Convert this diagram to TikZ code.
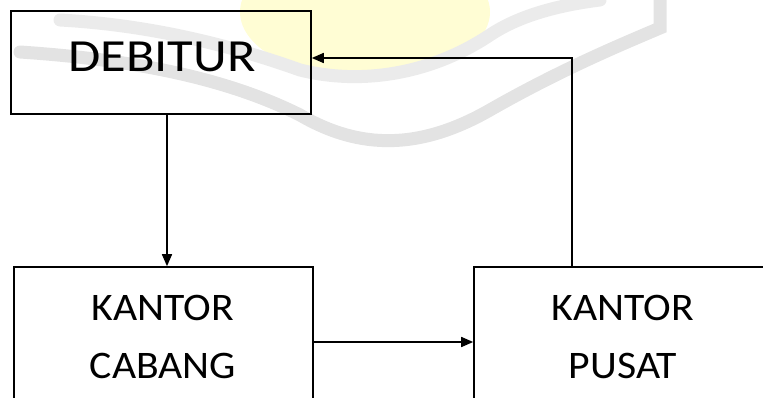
\documentclass[tikz,border=0pt]{standalone}
\usepackage{fontspec}
\setmainfont{Carlito}
\usetikzlibrary{arrows.meta}

\tikzset{
  box/.style={draw=black, line width=1.6pt, minimum width=#1, inner sep=0pt},
  boxtext/.style={inner sep=0pt, anchor=base, font=\fontsize{39}{39}\selectfont},
  flow/.style={draw=black, line width=1.6pt, -{Triangle[length=12pt,width=10pt]}},
  wmband/.style={draw=gray!22, line width=13pt, line cap=round},
}
\newcommand{\widen}[2]{\scalebox{#1}[1]{#2}}

\begin{document}
\begin{tikzpicture}[x=1pt,y=-1pt]
  \useasboundingbox (0,0) rectangle (763,398);
  \clip (0,0) rectangle (763,398);

  % faint logo watermark behind the chart
  \fill[yellow!17] (365,12) ellipse [x radius=125pt, y radius=66pt];
  \draw[wmband] (20,52) .. controls (140,60) and (230,80) .. (300,115)
        .. controls (360,150) and (420,150) .. (490,110)
        .. controls (560,70) and (620,45) .. (660,28) -- (660,0);
  \draw[wmband, draw=gray!16] (60,20) .. controls (150,25) and (230,45) .. (300,70)
        .. controls (360,85) and (430,75) .. (490,35)
        .. controls (520,15) and (560,5) .. (600,0);

  % boxes
  \node[box=300pt, minimum height=103pt] (deb) at (161,62.5) {};
  \node[box=299pt, minimum height=160pt] (cab) at (163.5,347) {};
  \node[box=320pt, minimum height=160pt] (pus) at (634,347) {};

  % labels
  \node[boxtext, font=\fontsize{46}{46}\selectfont] (tdeb) at (162,72) {\widen{1.14}{DEBITUR}};
  \node[boxtext] (tcab1) at (163,320) {\widen{1.07}{KANTOR}};
  \node[boxtext] (tcab2) at (163,378) {\widen{1.07}{CABANG}};
  \node[boxtext] (tpus1) at (623,320) {\widen{1.07}{KANTOR}};
  \node[boxtext] (tpus2) at (623,378) {\widen{1.07}{PUSAT}};

  % connectors
  \coordinate (bend) at (572,58);
  \draw[flow] (deb.south -| 167,0) -- (cab.north -| 167,0);
  \draw[flow] (cab.east |- 0,342) -- (pus.west |- 0,342);
  \draw[flow] (pus.north -| bend) -- (bend) -- (deb.east |- bend);
\end{tikzpicture}
\end{document}
